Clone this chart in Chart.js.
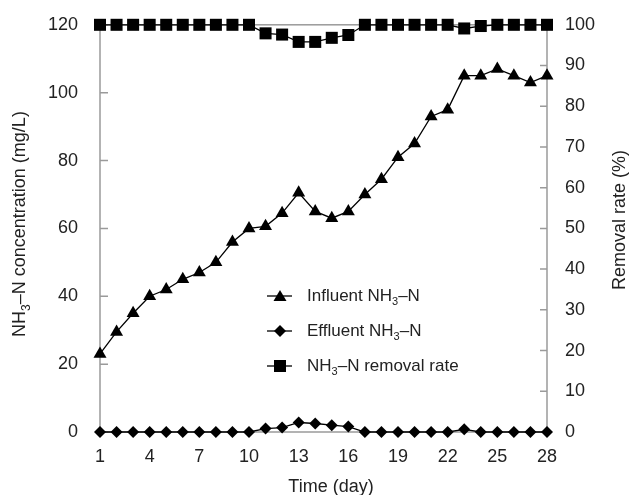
<!DOCTYPE html>
<html>
<head>
<meta charset="UTF-8">
<title>NH3-N removal</title>
<script src="https://cdn.jsdelivr.net/npm/chart.js"></script>
<style>
  html, body { margin: 0; padding: 0; background: #fff; }
  canvas { display: block; }
</style>
</head>
<body>
<canvas id="chart" width="632" height="495"></canvas>
<script>
// values
const days = [1, 2, 3, 4, 5, 6, 7, 8, 9, 10, 11, 12, 13, 14, 15, 16, 17, 18, 19, 20, 21, 22, 23, 24, 25, 26, 27, 28];
const influent = [23, 29.5, 35, 40, 42, 45, 47, 50, 56, 60, 60.6, 64.5, 70.5, 65, 63, 65, 70, 74.5, 81, 85, 93, 95, 105, 105, 107, 105, 103, 105];
const effluent = [0, 0, 0, 0, 0, 0, 0, 0, 0, 0, 1.0, 1.3, 2.8, 2.5, 2.0, 1.6, 0, 0, 0, 0, 0, 0, 0.8, 0, 0, 0, 0, 0];
const removal = [100, 100, 100, 100, 100, 100, 100, 100, 100, 100, 97.9, 97.6, 95.8, 95.8, 96.8, 97.5, 100, 100, 100, 100, 100, 100, 99.1, 99.7, 100, 100, 100, 100];
const leftTicks = [0, 20, 40, 60, 80, 100, 120];
const rightTicks = [0, 10, 20, 30, 40, 50, 60, 70, 80, 90, 100];

const FONT = "'Liberation Sans', Arial, Helvetica, sans-serif";
const TEXT = '#222';
const AXIS = '#9a9a9a';

// draws text pieces in a row, subscript pieces smaller and lower
function drawParts(ctx, parts, x, y, size) {
  parts.forEach(([t, sub]) => {
    ctx.font = (sub ? Math.round(size * 0.65) : size) + 'px ' + FONT;
    ctx.fillText(t, x, sub ? y + size * 0.35 : y);
    x += ctx.measureText(t).width;
  });
}
function partsWidth(ctx, parts, size) {
  let w = 0;
  parts.forEach(([t, sub]) => {
    ctx.font = (sub ? Math.round(size * 0.65) : size) + 'px ' + FONT;
    w += ctx.measureText(t).width;
  });
  return w;
}

// box, inward tick marks, axis titles and the in-plot legend
const frame = {
  id: 'frame',
  beforeDatasetsDraw(chart) {
    const { ctx, chartArea: a, scales } = chart;
    ctx.save();
    ctx.strokeStyle = AXIS;
    ctx.lineWidth = 1.5;
    ctx.strokeRect(a.left, a.top, a.right - a.left, a.bottom - a.top);
    ctx.beginPath();
    leftTicks.forEach(v => {
      const y = scales.y.getPixelForValue(v);
      ctx.moveTo(a.left, y); ctx.lineTo(a.left + 8, y);
    });
    rightTicks.forEach(v => {
      const y = scales.y1.getPixelForValue(v);
      ctx.moveTo(a.right, y); ctx.lineTo(a.right - 7, y);
    });
    ctx.stroke();
    ctx.restore();
  },
  afterDraw(chart) {
    const { ctx } = chart;
    ctx.save();
    ctx.fillStyle = TEXT;
    ctx.textBaseline = 'middle';

    // axis titles
    ctx.font = '18px ' + FONT;
    ctx.textAlign = 'center';
    ctx.fillText('Time (day)', 331, 487);

    const leftTitle = [['NH', 0], ['3', 1], ['–N concentration (mg/L)', 0]];
    ctx.save();
    ctx.translate(20, 224);
    ctx.rotate(-Math.PI / 2);
    ctx.textAlign = 'left';
    drawParts(ctx, leftTitle, -partsWidth(ctx, leftTitle, 18) / 2, 0, 18);
    ctx.restore();

    ctx.save();
    ctx.translate(620, 220);
    ctx.rotate(-Math.PI / 2);
    ctx.font = '18px ' + FONT;
    ctx.textAlign = 'center';
    ctx.fillText('Removal rate (%)', 0, 0);
    ctx.restore();

    // legend
    ctx.textAlign = 'left';
    const items = [
      { parts: [['Influent NH', 0], ['3', 1], ['–N', 0]], shape: 'tri', y: 296 },
      { parts: [['Effluent NH', 0], ['3', 1], ['–N', 0]], shape: 'dia', y: 331 },
      { parts: [['NH', 0], ['3', 1], ['–N removal rate', 0]], shape: 'sq', y: 366 }
    ];
    items.forEach(it => {
      ctx.strokeStyle = '#000';
      ctx.fillStyle = '#000';
      ctx.lineWidth = 1.3;
      ctx.beginPath();
      ctx.moveTo(267, it.y); ctx.lineTo(292, it.y);
      ctx.stroke();
      const cx = 280, cy = it.y;
      ctx.beginPath();
      if (it.shape === 'tri') {
        ctx.moveTo(cx, cy - 6); ctx.lineTo(cx + 6.5, cy + 5); ctx.lineTo(cx - 6.5, cy + 5);
      } else if (it.shape === 'dia') {
        ctx.moveTo(cx, cy - 6); ctx.lineTo(cx + 6, cy); ctx.lineTo(cx, cy + 6); ctx.lineTo(cx - 6, cy);
      } else {
        ctx.rect(cx - 6, cy - 6, 12, 12);
      }
      ctx.closePath();
      ctx.fill();
      ctx.fillStyle = TEXT;
      drawParts(ctx, it.parts, 307, cy, 17);
    });
    ctx.restore();
  }
};

new Chart(document.getElementById('chart'), {
  type: 'line',
  data: {
    labels: days,
    datasets: [
      {
        label: 'Influent NH3–N',
        data: influent,
        yAxisID: 'y',
        borderColor: '#000',
        backgroundColor: '#000',
        borderWidth: 1.3,
        pointStyle: 'triangle',
        pointRadius: 7.5,
        pointBorderWidth: 0,
        tension: 0,
        clip: false
      },
      {
        label: 'Effluent NH3–N',
        data: effluent,
        yAxisID: 'y',
        borderColor: '#000',
        backgroundColor: '#000',
        borderWidth: 1.3,
        pointStyle: 'rectRot',
        pointRadius: 6,
        pointBorderWidth: 0,
        tension: 0,
        clip: false
      },
      {
        label: 'NH3–N removal rate',
        data: removal,
        yAxisID: 'y1',
        borderColor: '#000',
        backgroundColor: '#000',
        borderWidth: 1.3,
        pointStyle: 'rect',
        pointRadius: 8.5,
        pointBorderWidth: 0,
        tension: 0,
        clip: false
      }
    ]
  },
  options: {
    responsive: false,
    animation: false,
    layout: { padding: { top: 23, left: 0, right: 0, bottom: 0 } },
    plugins: { legend: { display: false }, tooltip: { enabled: false } },
    scales: {
      x: {
        type: 'category',
        offset: false,
        grid: { display: false },
        border: { display: false },
        ticks: {
          autoSkip: false,
          maxRotation: 0,
          padding: 6,
          color: TEXT,
          font: { family: FONT, size: 18 },
          callback: (v, i) => (i % 3 === 0 ? days[i] : '')
        },
        afterFit: s => { s.height = 63; }
      },
      y: {
        position: 'left',
        min: 0,
        max: 120,
        grid: { display: false },
        border: { display: false },
        afterBuildTicks: s => { s.ticks = leftTicks.map(v => ({ value: v })); },
        ticks: { padding: 14, color: TEXT, font: { family: FONT, size: 18 } },
        afterFit: s => { s.width = 100; }
      },
      y1: {
        position: 'right',
        min: 0,
        max: 100,
        grid: { display: false },
        border: { display: false },
        afterBuildTicks: s => { s.ticks = rightTicks.map(v => ({ value: v })); },
        ticks: { padding: 10, color: TEXT, font: { family: FONT, size: 18 } },
        afterFit: s => { s.width = 85; }
      }
    }
  },
  plugins: [frame]
});
</script>
</body>
</html>
